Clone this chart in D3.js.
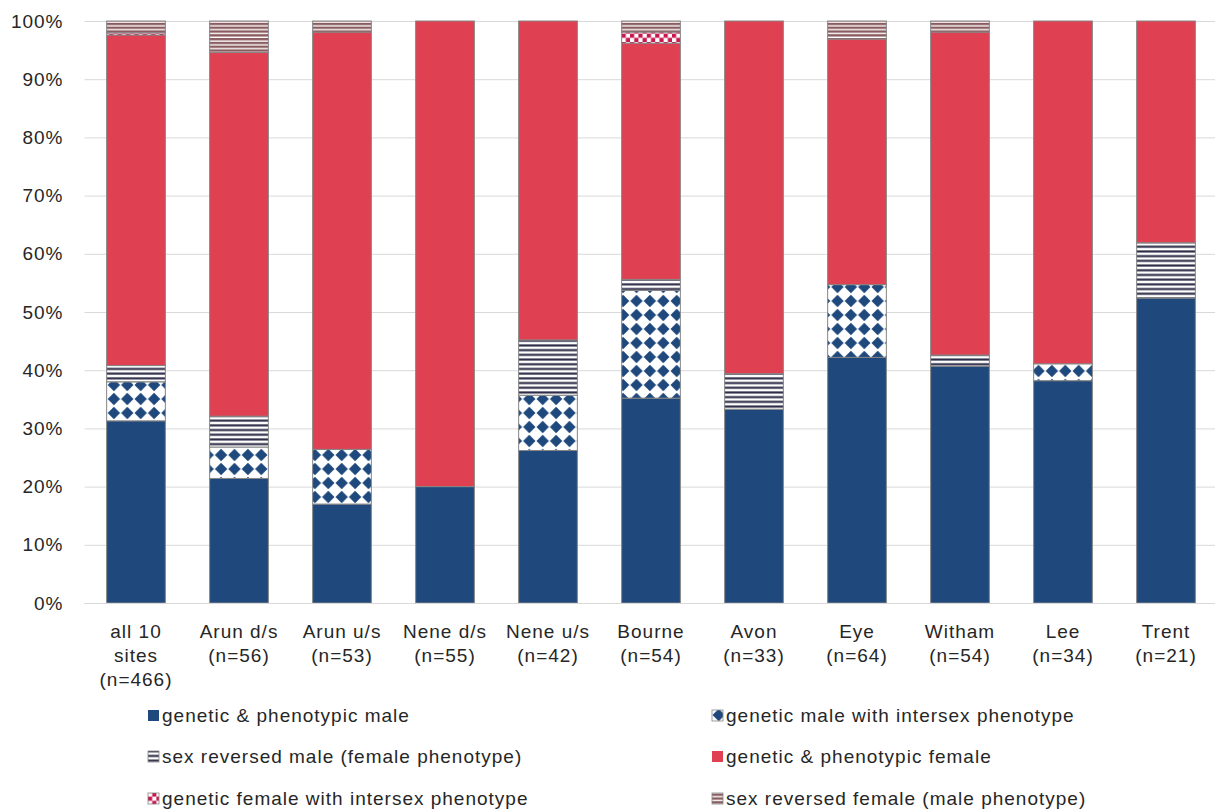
<!DOCTYPE html>
<html>
<head>
<meta charset="utf-8">
<script src="https://cdn.jsdelivr.net/npm/d3@7"></script>
<style>
  body { margin: 0; background: #fff; }
  svg { display: block; }
  text { font-family: "Liberation Sans", Arial, sans-serif; fill: #262626; }
</style>
</head>
<body>
<svg id="chart" width="1215" height="812"></svg>
<script>
// Sites and sample sizes (axis labels are written out line by line)
const categories = ["all 10 sites", "Arun d/s", "Arun u/s", "Nene d/s", "Nene u/s", "Bourne", "Avon", "Eye", "Witham", "Lee", "Trent"];
const categoryLabels = [
  ["all 10", "sites", "(n=466)"],
  ["Arun d/s", "(n=56)"],
  ["Arun u/s", "(n=53)"],
  ["Nene d/s", "(n=55)"],
  ["Nene u/s", "(n=42)"],
  ["Bourne", "(n=54)"],
  ["Avon", "(n=33)"],
  ["Eye", "(n=64)"],
  ["Witham", "(n=54)"],
  ["Lee", "(n=34)"],
  ["Trent", "(n=21)"]
];

// Percentage of fish in each class, per site
const geneticMale        = [31.3, 21.4, 17.0, 20.0, 26.2, 35.2, 33.3, 42.2, 40.7, 38.2, 52.4];
const intersexMale       = [ 6.7,  5.4,  9.4,  0.0,  9.5, 18.5,  0.0, 12.5,  0.0,  2.9,  0.0];
const sexReversedMale    = [ 2.8,  5.3,  0.0,  0.0,  9.5,  1.9,  6.1,  0.0,  1.9,  0.0,  9.5];
const geneticFemale      = [56.8, 62.5, 71.7, 80.0, 54.8, 40.6, 60.6, 42.2, 55.5, 58.9, 38.1];
const intersexFemale     = [ 0.4,  0.0,  0.0,  0.0,  0.0,  1.9,  0.0,  0.0,  0.0,  0.0,  0.0];
const sexReversedFemale  = [ 2.0,  5.4,  1.9,  0.0,  0.0,  1.9,  0.0,  3.1,  1.9,  0.0,  0.0];

const seriesNames = [
  "genetic & phenotypic male",
  "genetic male with intersex phenotype",
  "sex reversed male (female phenotype)",
  "genetic & phenotypic female",
  "genetic female with intersex phenotype",
  "sex reversed female (male phenotype)"
];
const seriesValues = [geneticMale, intersexMale, sexReversedMale, geneticFemale, intersexFemale, sexReversedFemale];

const yTicks = [0, 10, 20, 30, 40, 50, 60, 70, 80, 90, 100];

// Rows for the stack layout
const rows = categories.map((c, i) => {
  const r = { site: c };
  seriesNames.forEach((s, j) => { r[s] = seriesValues[j][i]; });
  return r;
});

const svg = d3.select("#chart");
const plot = { left: 84.5, right: 1217.5, top: 21, bottom: 603 };
const fontSize = 19, spacing = 1;

const x = d3.scaleBand().domain(categories)
  .range([plot.left, plot.right]).paddingInner(0.43).paddingOuter(0.215);
const y = d3.scaleLinear().domain([0, 100]).range([plot.bottom, plot.top]);

// Fill patterns
const defs = svg.append("defs");
const navy = "#1F497D", red = "#DF4152";

const pDiamond = defs.append("pattern").attr("id", "pDiamond")
  .attr("patternUnits", "userSpaceOnUse").attr("width", 13.4).attr("height", 14);
pDiamond.append("rect").attr("width", 13.4).attr("height", 14).attr("fill", "#fff");
pDiamond.append("path").attr("d", "M6.7,0.7 L12.9,7 L6.7,13.3 L0.5,7 Z").attr("fill", navy);

const pStripeM = defs.append("pattern").attr("id", "pStripeM")
  .attr("patternUnits", "userSpaceOnUse").attr("width", 10).attr("height", 4.7);
pStripeM.append("rect").attr("width", 10).attr("height", 4.7).attr("fill", "#fff");
pStripeM.append("rect").attr("y", 1.3).attr("width", 10).attr("height", 2.1).attr("fill", "#2b2a45");

const pChecker = defs.append("pattern").attr("id", "pChecker")
  .attr("patternUnits", "userSpaceOnUse").attr("width", 8.4).attr("height", 8.4);
pChecker.append("rect").attr("width", 8.4).attr("height", 8.4).attr("fill", "#fff");
pChecker.append("rect").attr("width", 4.2).attr("height", 4.2).attr("fill", "#C8174F");
pChecker.append("rect").attr("x", 4.2).attr("y", 4.2).attr("width", 4.2).attr("height", 4.2).attr("fill", "#C8174F");

const pStripeF = defs.append("pattern").attr("id", "pStripeF")
  .attr("patternUnits", "userSpaceOnUse").attr("width", 10).attr("height", 3.8);
pStripeF.append("rect").attr("width", 10).attr("height", 3.8).attr("fill", "#fff");
pStripeF.append("rect").attr("width", 10).attr("height", 2.4).attr("fill", "#8A5C60");

const fills = [navy, "url(#pDiamond)", "url(#pStripeM)", red, "url(#pChecker)", "url(#pStripeF)"];

// Gridlines and y labels
const yAxis = svg.append("g").attr("transform", `translate(${plot.left},0)`)
  .call(d3.axisLeft(y).tickValues(yTicks).tickFormat(d => d + "%")
    .tickSize(-(1215 - plot.left)).tickPadding(21));
yAxis.select(".domain").remove();
yAxis.selectAll(".tick line").attr("stroke", "#d9d9d9");
yAxis.selectAll(".tick text").attr("font-size", fontSize).attr("letter-spacing", spacing).attr("fill", "#262626");

// Stacked bars
const stack = d3.stack().keys(seriesNames)(rows);
svg.append("g").selectAll("g").data(stack).join("g")
  .attr("fill", (d, i) => fills[i])
  .selectAll("rect").data(d => d.filter(p => p[1] - p[0] > 0)).join("rect")
  .attr("x", d => x(d.data.site))
  .attr("width", x.bandwidth())
  .attr("y", d => y(d[1]))
  .attr("height", d => y(d[0]) - y(d[1]))
  .attr("stroke", "#858585").attr("stroke-width", 1);

// Category labels
const xAxis = svg.append("g").attr("transform", `translate(0,${plot.bottom})`)
  .call(d3.axisBottom(x).tickSize(0).tickFormat(""));
xAxis.select(".domain").attr("stroke", "#d9d9d9").attr("d", `M${plot.left},0.5H1215`);
xAxis.selectAll(".tick").each(function (d, i) {
  const t = d3.select(this).select("text").text(null)
    .attr("font-size", fontSize).attr("letter-spacing", spacing).attr("fill", "#262626").attr("y", 0).attr("dy", null);
  categoryLabels[i].forEach((line, k) => {
    t.append("tspan").attr("x", 0).attr("y", 35 + k * 24).text(line);
  });
});

// Legend: two columns, three rows
const legendCols = [148, 712];
const legendRows = [722, 763, 805];
const legend = svg.append("g");
seriesNames.forEach((name, i) => {
  const cx = legendCols[i % 2], cy = legendRows[Math.floor(i / 2)];
  const g = legend.append("g").attr("transform", `translate(${cx},${cy})`);
  g.append("rect").attr("x", 0).attr("y", -12).attr("width", 11).attr("height", 11)
    .attr("fill", fills[i]).attr("stroke", i === 0 || i === 3 ? "none" : "#858585").attr("stroke-width", 0.8);
  g.append("text").attr("x", 14).attr("y", 0).attr("font-size", fontSize).attr("letter-spacing", spacing).text(name);
});
</script>
</body>
</html>
